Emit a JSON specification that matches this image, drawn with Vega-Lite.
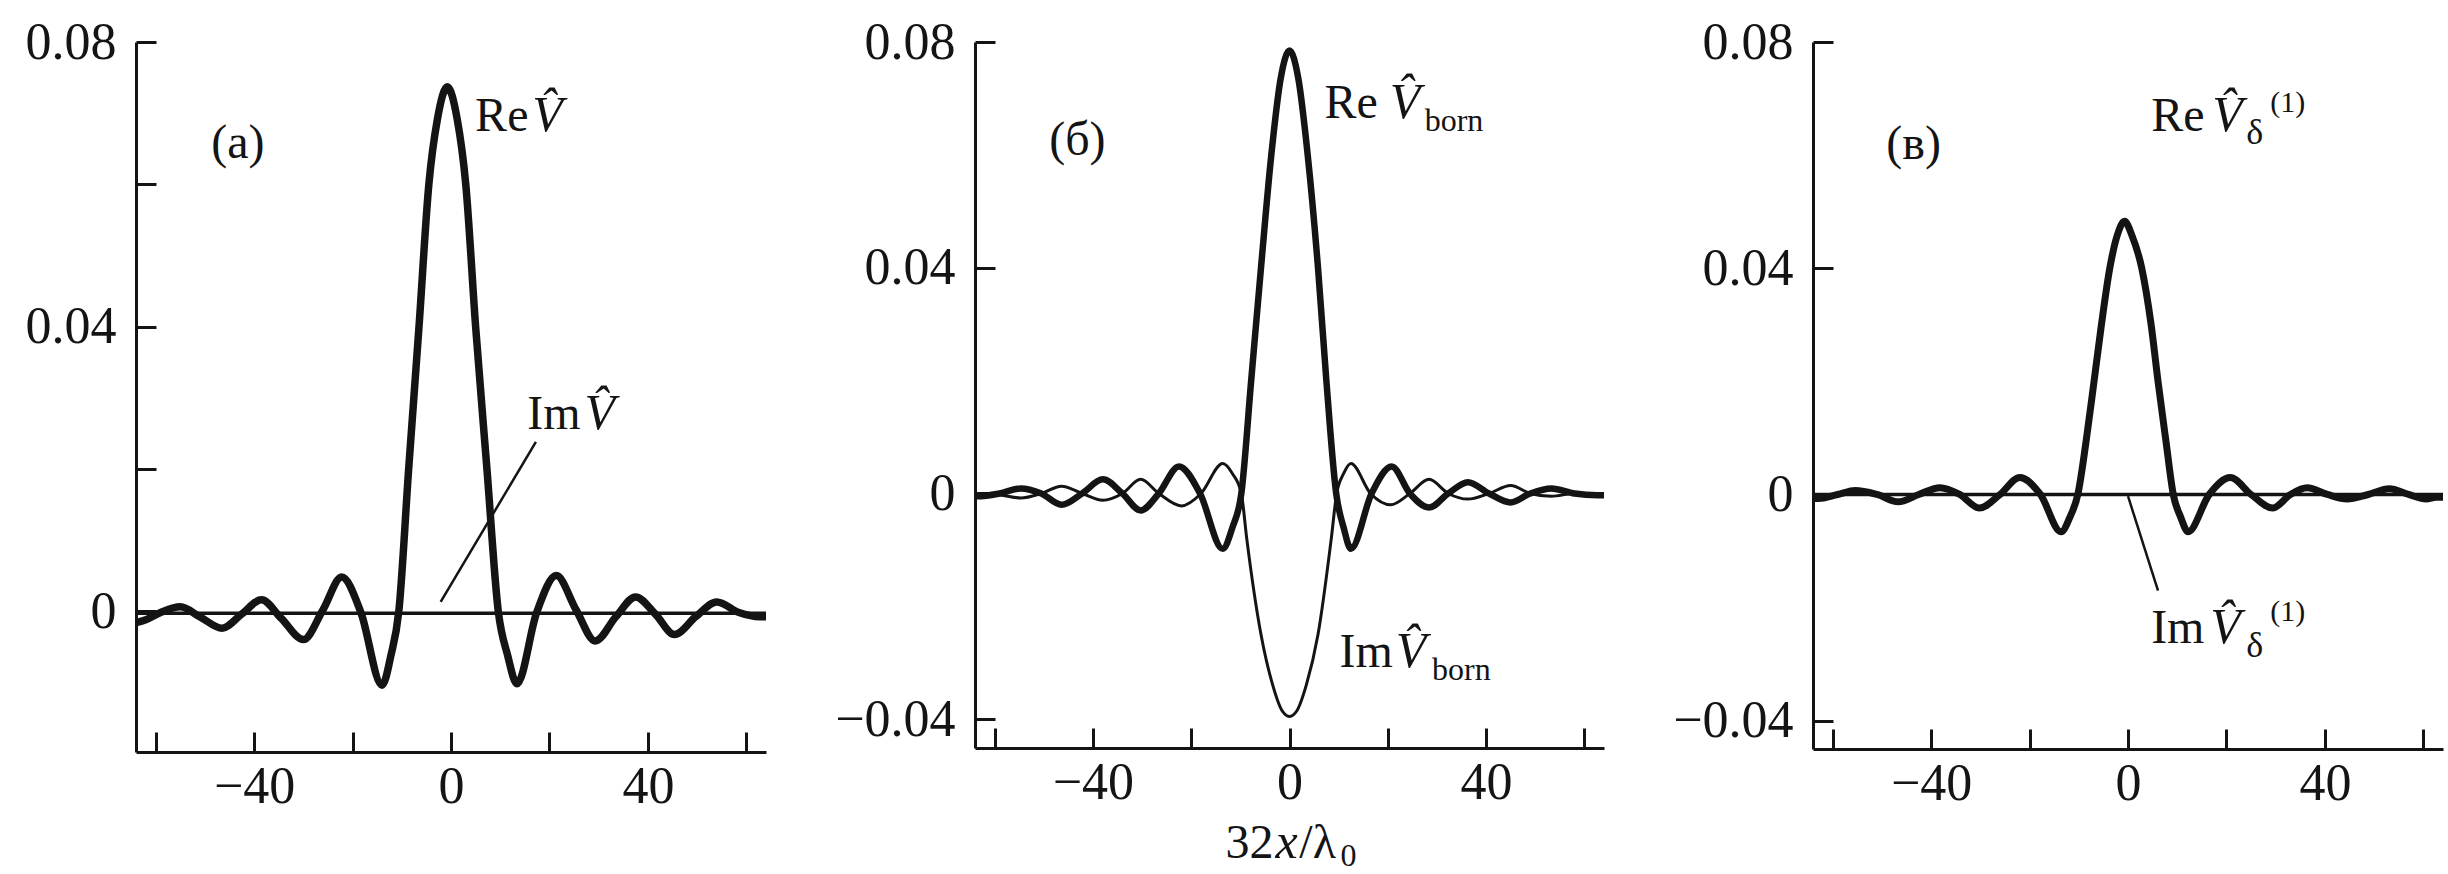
{
  "$schema": "https://vega.github.io/schema/vega-lite/v6.json",
  "background": "white",
  "padding": {"left": 25, "top": 16, "right": 0, "bottom": 0},
  "bounds": "flush",
  "spacing": 209,
  "config": {
    "view": {"stroke": null},
    "axis": {
      "domainColor": "#141414", "domainWidth": 3,
      "tickColor": "#141414", "tickWidth": 3, "tickSize": -20,
      "grid": false, "labelFont": "Liberation Serif", "labelFontSize": 52,
      "labelColor": "#141414", "labelOverlap": false, "title": null
    }
  },
  "datasets": {
    "a_re": [
      {"x": -64, "v": -0.0016}, {"x": -62, "v": -0.0012}, {"x": -59, "v": -0.0002}, {"x": -55, "v": 0.0006},
      {"x": -51, "v": -0.0008}, {"x": -46.5, "v": -0.0024}, {"x": -42.5, "v": -0.0004}, {"x": -38.5, "v": 0.0016},
      {"x": -34.5, "v": -0.0010}, {"x": -30, "v": -0.0040}, {"x": -26, "v": 0.0002}, {"x": -22.2, "v": 0.0048},
      {"x": -18.3, "v": -0.0002}, {"x": -14, "v": -0.0104}, {"x": -12.2, "v": -0.0062}, {"x": -10.6, "v": 0.0},
      {"x": -8.6, "v": 0.020}, {"x": -6.5, "v": 0.040}, {"x": -4.5, "v": 0.060}, {"x": -2.75, "v": 0.0692},
      {"x": -0.75, "v": 0.0737}, {"x": 1.25, "v": 0.0692}, {"x": 3.0, "v": 0.060}, {"x": 5.0, "v": 0.040},
      {"x": 7.3, "v": 0.020}, {"x": 9.6, "v": 0.0}, {"x": 11.5, "v": -0.0062}, {"x": 13.4, "v": -0.0102},
      {"x": 17.4, "v": -0.0002}, {"x": 21.4, "v": 0.0050}, {"x": 25.4, "v": 0.0002}, {"x": 29.3, "v": -0.0042},
      {"x": 33.5, "v": -0.0008}, {"x": 37.5, "v": 0.0020}, {"x": 41.5, "v": -0.0004}, {"x": 45.4, "v": -0.0033},
      {"x": 49.7, "v": -0.0008}, {"x": 54, "v": 0.0013}, {"x": 58.5, "v": -0.0002}, {"x": 62.7, "v": -0.0008},
      {"x": 64, "v": -0.0008}
    ],
    "a_im": [{"x": -64, "v": -0.0003}, {"x": 64, "v": -0.0003}],
    "a_ptr": [{"x": -2.1, "v": 0.0013, "x2": 17.25, "v2": 0.0238}],
    "a_txt": [
      {"role": "word", "t": "(a)", "x": -48.7, "v": 0.0637},
      {"role": "word", "t": "Re", "x": 4.9, "v": 0.0675},
      {"role": "symbol", "t": "V̂", "x": 16.5, "v": 0.0675},
      {"role": "word", "t": "Im", "x": 15.5, "v": 0.0256},
      {"role": "symbol", "t": "V̂", "x": 27.1, "v": 0.0256}
    ],
    "b_re": [
      {"x": -64, "v": -0.0005}, {"x": -63.5, "v": -0.0005}, {"x": -59, "v": 0.0}, {"x": -54.7, "v": 0.0009},
      {"x": -50.5, "v": 0.0}, {"x": -46.4, "v": -0.0020}, {"x": -42.2, "v": 0.0}, {"x": -38, "v": 0.0025},
      {"x": -34, "v": 0.0}, {"x": -30.3, "v": -0.0030}, {"x": -26.6, "v": 0.0}, {"x": -22.5, "v": 0.0048},
      {"x": -18.2, "v": 0.0}, {"x": -13.6, "v": -0.0098}, {"x": -11.6, "v": -0.0060}, {"x": -9.8, "v": 0.0},
      {"x": -7.8, "v": 0.020}, {"x": -5.8, "v": 0.040}, {"x": -3.7, "v": 0.060}, {"x": -1.8, "v": 0.0735},
      {"x": 0, "v": 0.0785}, {"x": 1.8, "v": 0.0735}, {"x": 3.7, "v": 0.060}, {"x": 5.8, "v": 0.040},
      {"x": 7.5, "v": 0.020}, {"x": 9.5, "v": 0.0}, {"x": 11, "v": -0.0060}, {"x": 12.5, "v": -0.0098},
      {"x": 16.7, "v": 0.0}, {"x": 20.8, "v": 0.0048}, {"x": 24.5, "v": 0.0}, {"x": 28.4, "v": -0.0025},
      {"x": 32.3, "v": 0.0}, {"x": 36.3, "v": 0.0020}, {"x": 40.6, "v": 0.0}, {"x": 45, "v": -0.0016},
      {"x": 49, "v": 0.0}, {"x": 53.3, "v": 0.0009}, {"x": 58, "v": 0.0}, {"x": 62.7, "v": -0.0003},
      {"x": 64, "v": -0.0003}
    ],
    "b_im": [
      {"x": -64, "v": 0.0}, {"x": -62, "v": 0.0}, {"x": -58.5, "v": -0.0003}, {"x": -54.7, "v": -0.0008},
      {"x": -50.5, "v": 0.0}, {"x": -46.4, "v": 0.0013}, {"x": -42.2, "v": 0.0}, {"x": -38, "v": -0.0012},
      {"x": -34, "v": 0.0}, {"x": -30.3, "v": 0.0025}, {"x": -26.6, "v": 0.0}, {"x": -22, "v": -0.0022},
      {"x": -18, "v": 0.0}, {"x": -13.6, "v": 0.0053}, {"x": -11.6, "v": 0.0035}, {"x": -9.8, "v": 0.0},
      {"x": -8.7, "v": -0.0080}, {"x": -5.8, "v": -0.0250}, {"x": -3.4, "v": -0.0340}, {"x": -1.5, "v": -0.0385},
      {"x": 0, "v": -0.0395}, {"x": 1.5, "v": -0.0385}, {"x": 3.4, "v": -0.0340}, {"x": 5.8, "v": -0.0250},
      {"x": 8.5, "v": -0.0080}, {"x": 9.6, "v": 0.0}, {"x": 11, "v": 0.0035}, {"x": 12.5, "v": 0.0053},
      {"x": 16.5, "v": 0.0}, {"x": 20.6, "v": -0.0020}, {"x": 24.5, "v": 0.0}, {"x": 28.4, "v": 0.0025},
      {"x": 32.3, "v": 0.0}, {"x": 36.3, "v": -0.0010}, {"x": 40.6, "v": 0.0}, {"x": 45, "v": 0.0014},
      {"x": 49, "v": 0.0}, {"x": 53.3, "v": -0.0005}, {"x": 58, "v": 0.0}, {"x": 64, "v": 0.0}
    ],
    "b_txt": [
      {"role": "word", "t": "(б)", "x": -48.9, "v": 0.0599},
      {"role": "word", "t": "Re", "x": 7.1, "v": 0.0666},
      {"role": "symbol", "t": "V̂", "x": 20.4, "v": 0.0666},
      {"role": "sub", "t": "born", "x": 27.5, "v": 0.0642},
      {"role": "word", "t": "Im", "x": 10.2, "v": -0.0307},
      {"role": "symbol", "t": "V̂", "x": 21.6, "v": -0.0307},
      {"role": "sub", "t": "born", "x": 29.0, "v": -0.0331},
      {"role": "word", "t": "32", "x": -13.0, "v": -0.0646},
      {"role": "symbol", "t": "x", "x": -2.85, "v": -0.0646},
      {"role": "word", "t": "/λ", "x": 2.0, "v": -0.0646},
      {"role": "sub", "t": "0", "x": 10.4, "v": -0.0660}
    ],
    "c_re": [
      {"x": -64, "v": -0.0007}, {"x": -62.9, "v": -0.0007}, {"x": -59, "v": 0.0}, {"x": -55.4, "v": 0.0007},
      {"x": -51, "v": 0.0}, {"x": -46.7, "v": -0.0013}, {"x": -42.5, "v": 0.0}, {"x": -38.2, "v": 0.0012},
      {"x": -34.2, "v": 0.0}, {"x": -30.2, "v": -0.0024}, {"x": -26, "v": 0.0}, {"x": -22, "v": 0.0030},
      {"x": -17.8, "v": 0.0}, {"x": -13.6, "v": -0.0066}, {"x": -11.8, "v": -0.0040}, {"x": -10.2, "v": 0.0},
      {"x": -8.5, "v": 0.0095}, {"x": -6.9, "v": 0.020}, {"x": -5.4, "v": 0.030}, {"x": -3.7, "v": 0.040},
      {"x": -2.2, "v": 0.0458}, {"x": -0.7, "v": 0.0483}, {"x": 0.8, "v": 0.0458}, {"x": 2.8, "v": 0.040},
      {"x": 4.7, "v": 0.030}, {"x": 6.1, "v": 0.020}, {"x": 7.7, "v": 0.0095}, {"x": 9.2, "v": 0.0},
      {"x": 10.7, "v": -0.0040}, {"x": 12.2, "v": -0.0066}, {"x": 16.5, "v": 0.0}, {"x": 20.8, "v": 0.0030},
      {"x": 25, "v": 0.0}, {"x": 29.4, "v": -0.0024}, {"x": 33, "v": 0.0}, {"x": 36.4, "v": 0.0012},
      {"x": 40.5, "v": 0.0}, {"x": 44.5, "v": -0.0008}, {"x": 48.8, "v": 0.0}, {"x": 53.1, "v": 0.0010},
      {"x": 57, "v": 0.0}, {"x": 60.6, "v": -0.0008}, {"x": 62.6, "v": -0.0005}, {"x": 64, "v": -0.0005}
    ],
    "c_im": [{"x": -64, "v": 0.0}, {"x": 64, "v": 0.0}],
    "c_ptr": [{"x": 0, "v": -0.0003, "x2": 6.1, "v2": -0.017}],
    "c_txt": [
      {"role": "word", "t": "(в)", "x": -49.1, "v": 0.0594},
      {"role": "word", "t": "Re", "x": 4.7, "v": 0.0643},
      {"role": "symbol", "t": "V̂", "x": 17.1, "v": 0.0643},
      {"role": "sub", "t": "δ", "x": 24.0, "v": 0.0619},
      {"role": "sup", "t": "(1)", "x": 28.9, "v": 0.0677},
      {"role": "word", "t": "Im", "x": 4.7, "v": -0.0263},
      {"role": "symbol", "t": "V̂", "x": 16.7, "v": -0.0263},
      {"role": "sub", "t": "δ", "x": 24.0, "v": -0.0288},
      {"role": "sup", "t": "(1)", "x": 28.9, "v": -0.0223}
    ]
  },
  "hconcat": [
    {
      "width": 630, "height": 710,
      "encoding": {
        "x": {"field": "x", "type": "quantitative", "title": null,
          "scale": {"domain": [-64, 64], "nice": false, "zero": false},
          "axis": {"values": [-60, -40, -20, 0, 20, 40, 60], "format": "d", "labelPadding": 29,
            "labelExpr": "datum.value % 40 == 0 ? datum.label : ''"}},
        "y": {"field": "v", "type": "quantitative", "title": null,
          "scale": {"domain": [-0.0198, 0.08], "nice": false, "zero": false},
          "axis": {"values": [0, 0.02, 0.04, 0.06, 0.08], "format": ".2f", "labelPadding": 40,
            "labelExpr": "datum.value == 0 ? '0' : ((datum.label == '0.02' || datum.label == '0.06') ? '' : datum.label)"}}
      },
      "layer": [
        {"data": {"name": "a_im"}, "mark": {"type": "line", "strokeWidth": 3.5, "color": "#141414"}},
        {"data": {"name": "a_re"}, "mark": {"type": "line", "strokeWidth": 7.5, "color": "#141414", "interpolate": "monotone"}},
        {"data": {"name": "a_ptr"}, "mark": {"type": "rule", "strokeWidth": 2.5, "color": "#141414"},
          "encoding": {"x2": {"field": "x2"}, "y2": {"field": "v2"}}},
        {"data": {"name": "a_txt"}, "transform": [{"filter": "datum.role == 'word'"}],
          "mark": {"type": "text", "font": "Liberation Serif", "fontSize": 48, "align": "left", "baseline": "alphabetic", "color": "#141414"},
          "encoding": {"text": {"field": "t"}}},
        {"data": {"name": "a_txt"}, "transform": [{"filter": "datum.role == 'symbol'"}],
          "mark": {"type": "text", "font": "Liberation Serif", "fontStyle": "italic", "fontSize": 50, "align": "left", "baseline": "alphabetic", "color": "#141414"},
          "encoding": {"text": {"field": "t"}}}
      ]
    },
    {
      "width": 629, "height": 706,
      "encoding": {
        "x": {"field": "x", "type": "quantitative", "title": null,
          "scale": {"domain": [-64, 64], "nice": false, "zero": false},
          "axis": {"values": [-60, -40, -20, 0, 20, 40, 60], "format": "d", "labelPadding": 29,
            "labelExpr": "datum.value % 40 == 0 ? datum.label : ''"}},
        "y": {"field": "v", "type": "quantitative", "title": null,
          "scale": {"domain": [-0.0451, 0.08], "nice": false, "zero": false},
          "axis": {"values": [-0.04, 0, 0.04, 0.08], "format": ".2f", "labelPadding": 40,
            "labelExpr": "datum.value == 0 ? '0' : datum.label"}}
      },
      "layer": [
        {"data": {"name": "b_im"}, "mark": {"type": "line", "strokeWidth": 3, "color": "#141414", "interpolate": "monotone"}},
        {"data": {"name": "b_re"}, "mark": {"type": "line", "strokeWidth": 6.5, "color": "#141414", "interpolate": "monotone"}},
        {"data": {"name": "b_txt"}, "transform": [{"filter": "datum.role == 'word'"}],
          "mark": {"type": "text", "font": "Liberation Serif", "fontSize": 48, "align": "left", "baseline": "alphabetic", "color": "#141414"},
          "encoding": {"text": {"field": "t"}}},
        {"data": {"name": "b_txt"}, "transform": [{"filter": "datum.role == 'symbol'"}],
          "mark": {"type": "text", "font": "Liberation Serif", "fontStyle": "italic", "fontSize": 50, "align": "left", "baseline": "alphabetic", "color": "#141414"},
          "encoding": {"text": {"field": "t"}}},
        {"data": {"name": "b_txt"}, "transform": [{"filter": "datum.role == 'sub'"}],
          "mark": {"type": "text", "font": "Liberation Serif", "fontSize": 32, "align": "left", "baseline": "alphabetic", "color": "#141414"},
          "encoding": {"text": {"field": "t"}}}
      ]
    },
    {
      "width": 630, "height": 707,
      "encoding": {
        "x": {"field": "x", "type": "quantitative", "title": null,
          "scale": {"domain": [-64, 64], "nice": false, "zero": false},
          "axis": {"values": [-60, -40, -20, 0, 20, 40, 60], "format": "d", "labelPadding": 29,
            "labelExpr": "datum.value % 40 == 0 ? datum.label : ''"}},
        "y": {"field": "v", "type": "quantitative", "title": null,
          "scale": {"domain": [-0.045, 0.08], "nice": false, "zero": false},
          "axis": {"values": [-0.04, 0, 0.04, 0.08], "format": ".2f", "labelPadding": 40,
            "labelExpr": "datum.value == 0 ? '0' : datum.label"}}
      },
      "layer": [
        {"data": {"name": "c_im"}, "mark": {"type": "line", "strokeWidth": 3.5, "color": "#141414"}},
        {"data": {"name": "c_re"}, "mark": {"type": "line", "strokeWidth": 7, "color": "#141414", "interpolate": "monotone"}},
        {"data": {"name": "c_ptr"}, "mark": {"type": "rule", "strokeWidth": 2.5, "color": "#141414"},
          "encoding": {"x2": {"field": "x2"}, "y2": {"field": "v2"}}},
        {"data": {"name": "c_txt"}, "transform": [{"filter": "datum.role == 'word'"}],
          "mark": {"type": "text", "font": "Liberation Serif", "fontSize": 48, "align": "left", "baseline": "alphabetic", "color": "#141414"},
          "encoding": {"text": {"field": "t"}}},
        {"data": {"name": "c_txt"}, "transform": [{"filter": "datum.role == 'symbol'"}],
          "mark": {"type": "text", "font": "Liberation Serif", "fontStyle": "italic", "fontSize": 50, "align": "left", "baseline": "alphabetic", "color": "#141414"},
          "encoding": {"text": {"field": "t"}}},
        {"data": {"name": "c_txt"}, "transform": [{"filter": "datum.role == 'sub'"}],
          "mark": {"type": "text", "font": "Liberation Serif", "fontSize": 36, "align": "left", "baseline": "alphabetic", "color": "#141414"},
          "encoding": {"text": {"field": "t"}}},
        {"data": {"name": "c_txt"}, "transform": [{"filter": "datum.role == 'sup'"}],
          "mark": {"type": "text", "font": "Liberation Serif", "fontSize": 30, "align": "left", "baseline": "alphabetic", "color": "#141414"},
          "encoding": {"text": {"field": "t"}}}
      ]
    }
  ]
}
